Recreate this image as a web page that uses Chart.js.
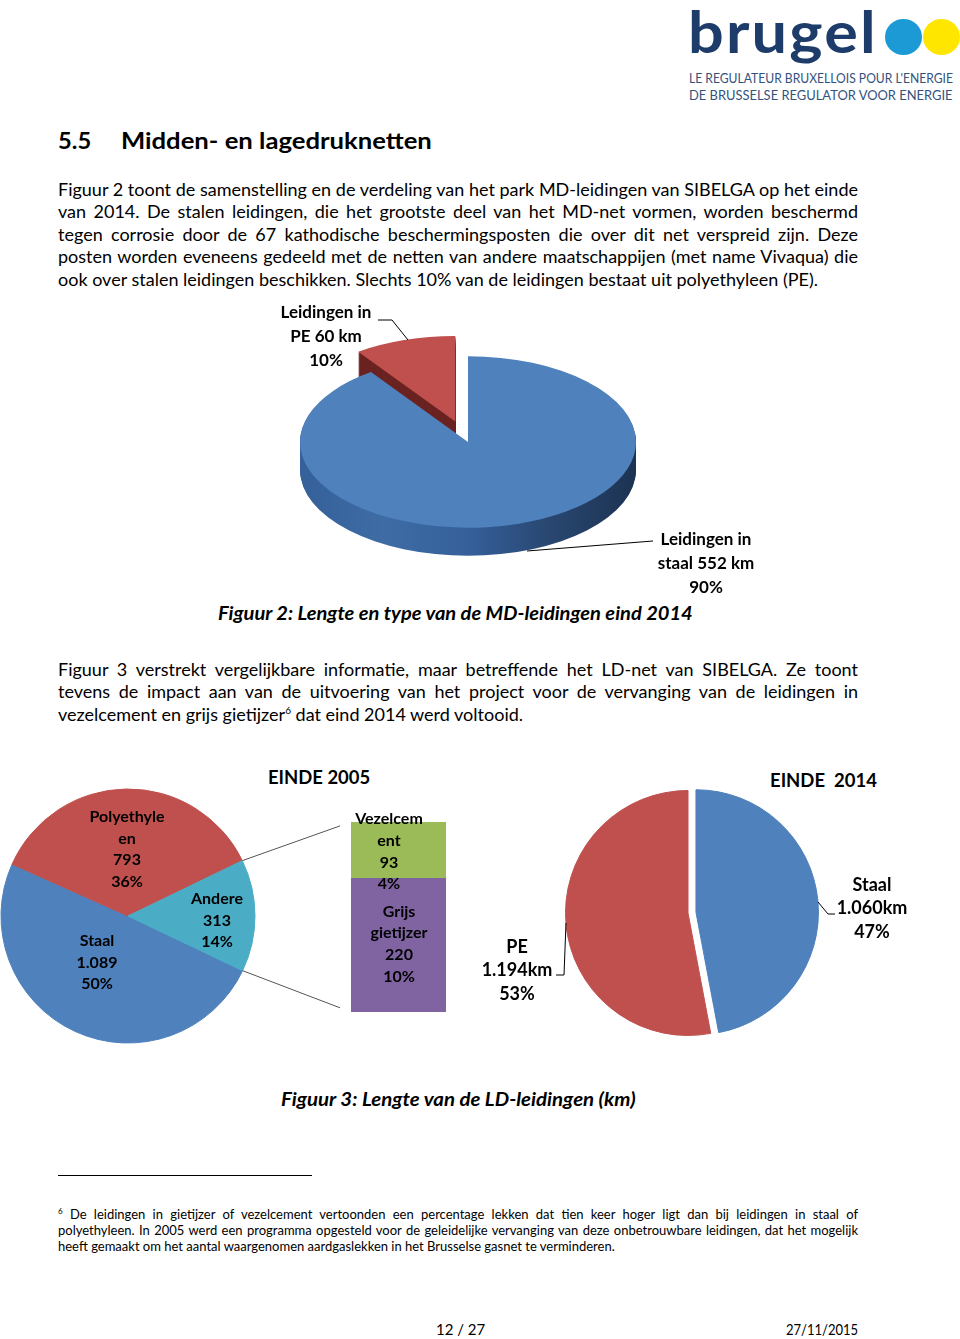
<!DOCTYPE html>
<html lang="nl">
<head>
<meta charset="UTF-8">
<title>Midden- en lagedruknetten</title>
<script src="https://cdn.jsdelivr.net/npm/chart.js@4.4.1/dist/chart.umd.min.js"></script>
<style>
    body { margin: 0; background: #fff; }
    .page { position: relative; width: 960px; height: 1339px; overflow: hidden; background: #fff;
            font-family: Lato, 'Open Sans', sans-serif; color: #000; }
    .t { position: absolute; white-space: nowrap; line-height: 1.2; }
    .line { position: absolute; left: 58px; width: 800px; white-space: nowrap; line-height: 1.2;
            font-size: 18px; text-align: justify; text-align-last: justify; }
    .line.last { text-align-last: left; }
    .fn { font-size: 13px; }
    .cap { font-weight: bold; font-style: italic; font-size: 18px; }
    .ttl { font-weight: bold; font-size: 19px; }
    .dot { position: absolute; width: 37px; height: 36px; border-radius: 50%; }
    canvas { position: absolute; }
</style>
</head>
<body>
<div class="page">
    <!-- logo -->
    <div class="t" data-w="190" style="left:688px; top:-4px; font-size:58px; font-weight:bold; color:#1d3c6a; letter-spacing:2px;">brugel</div>
    <div class="dot" style="left:885px; top:19px; background:#1c9ad6;"></div>
    <div class="dot" style="left:923px; top:19px; background:#ffe600;"></div>
    <div class="t" data-w="264" style="left:689px; top:70px; font-size:14px; color:#34527e;">LE REGULATEUR BRUXELLOIS POUR L'ENERGIE</div>
    <div class="t" data-w="264" style="left:689px; top:87px; font-size:14px; color:#34527e;">DE BRUSSELSE REGULATOR VOOR ENERGIE</div>

    <div class="t" data-w="33" style="left:58px; top:127px; font-size:23px; font-weight:bold;">5.5</div>
    <div class="t" data-w="311" style="left:121px; top:127px; font-size:23px; font-weight:bold;">Midden- en lagedruknetten</div>

    <div class="line" style="top:179px;">Figuur 2 toont de samenstelling en de verdeling van het park MD-leidingen van SIBELGA op het einde</div>
    <div class="line" style="top:201px;">van 2014. De stalen leidingen, die het grootste deel van het MD-net vormen, worden beschermd</div>
    <div class="line" style="top:224px;">tegen corrosie door de 67 kathodische beschermingsposten die over dit net verspreid zijn. Deze</div>
    <div class="line" style="top:246px;">posten worden eveneens gedeeld met de netten van andere maatschappijen (met name Vivaqua) die</div>
    <div class="line last" style="top:269px;">ook over stalen leidingen beschikken. Slechts 10% van de leidingen bestaat uit polyethyleen (PE).</div>

    <canvas id="md" width="510" height="300" style="left:260px; top:302px; width:510px; height:300px;"></canvas>

    <div class="t cap" data-w="475" style="left:218px; top:603px;">Figuur 2: Lengte en type van de MD-leidingen eind 2014</div>

    <div class="line" style="top:659px;">Figuur 3 verstrekt vergelijkbare informatie, maar betreffende het LD-net van SIBELGA. Ze toont</div>
    <div class="line" style="top:681px;">tevens de impact aan van de uitvoering van het project voor de vervanging van de leidingen in</div>
    <div class="line last" style="top:704px;">vezelcement en grijs gietijzer<sup style="font-size:10px;">6</sup> dat eind 2014 werd voltooid.</div>

    <div class="t ttl" data-w="102" style="left:268px; top:766px;">EINDE 2005</div>
    <div class="t ttl" data-w="107" style="left:770px; top:769px;">EINDE&nbsp; 2014</div>

    <canvas id="ldBar" width="140" height="230" style="left:330px; top:800px; width:140px; height:230px;"></canvas>
    <canvas id="ldPie05" width="340" height="300" style="left:0px; top:766px; width:340px; height:300px;"></canvas>
    <canvas id="ldPie14" width="490" height="290" style="left:470px; top:770px; width:490px; height:290px;"></canvas>

    <div class="t cap" data-w="355" style="left:281px; top:1089px;">Figuur 3: Lengte van de LD-leidingen (km)</div>

    <div style="position:absolute; left:58px; top:1175px; width:254px; height:1px; background:#000;"></div>
    <div class="line fn" style="top:1207px;"><sup style="font-size:8px;">6</sup> De leidingen in gietijzer of vezelcement vertoonden een percentage lekken dat tien keer hoger ligt dan bij leidingen in staal of</div>
    <div class="line fn" style="top:1223px;">polyethyleen. In 2005 werd een programma opgesteld voor de geleidelijke vervanging van deze onbetrouwbare leidingen, dat het mogelijk</div>
    <div class="line fn last" style="top:1239px;">heeft gemaakt om het aantal waargenomen aardgaslekken in het Brusselse gasnet te verminderen.</div>

    <div class="t" style="left:436px; top:1320px; font-size:15px;">12 / 27</div>
    <div class="t" data-w="72" style="left:786px; top:1320px; font-size:15px;">27/11/2015</div>
</div>

<script>
    // Figuur 2: MD-leidingen eind 2014 (km)
    const mdNames = ['staal', 'PE'];
    const mdKm = [552, 60];

    // Figuur 3: LD-leidingen eind 2005 (km)
    const ld05Names = ['Staal', 'Polyethyleen', 'Andere'];
    const ld05Km = [1089, 793, 313];
    // "Andere" opgesplitst (staaf)
    const andereNames = ['Grijs gietijzer', 'Vezelcement'];
    const andereKm = [220, 93];

    // Figuur 3: LD-leidingen eind 2014 (km)
    const ld14Names = ['Staal', 'PE'];
    const ld14Km = [1060, 1194];

    const BLUE = '#4f81bd', RED = '#c0504d', CYAN = '#4bacc6', GREEN = '#9bbb59', PURPLE = '#8064a2';

    function nl(n) {
        return String(n).replace(/\B(?=(\d{3})+(?!\d))/g, '.');
    }
    function pct(v, arr) {
        const tot = arr.reduce((a, b) => a + b, 0);
        return Math.round(v / tot * 100) + '%';
    }

    // tilted / exploded pie look, drawn from the arc elements
    function pieLook(cfg) {
        return {
            id: 'pieLook',
            beforeDatasetsDraw(chart) {
                const ctx = chart.ctx;
                const arcs = chart.getDatasetMeta(0).data;
                const cx = arcs[0].x, cy = arcs[0].y, R = arcs[0].outerRadius;
                const k = cfg.tilt;
                const shift = arcs.map((a, i) => {
                    const mid = (a.startAngle + a.endAngle) / 2, e = cfg.explode[i] || 0;
                    return [Math.cos(mid) * e, Math.sin(mid) * e];
                });
                const place = (d, s) => {
                    ctx.translate(cx, cy + d);
                    ctx.scale(1, k);
                    ctx.translate(-cx + s[0], -cy + s[1]);
                };
                const fills = (cfg.sides || []).map(f => {
                    if (!Array.isArray(f)) return f;
                    const g = ctx.createLinearGradient(cx - R, 0, cx + R, 0);
                    f.forEach((c, j) => g.addColorStop(j / (f.length - 1), c));
                    return g;
                });
                for (let d = cfg.depth; d > 0; d--) {
                    arcs.forEach((a, i) => {
                        ctx.save();
                        place(d, shift[i]);
                        ctx.fillStyle = fills[i];
                        ctx.beginPath();
                        ctx.moveTo(a.x, a.y);
                        ctx.arc(a.x, a.y, a.outerRadius, a.startAngle, a.endAngle);
                        ctx.closePath();
                        ctx.fill();
                        ctx.restore();
                    });
                }
                arcs.forEach((a, i) => {
                    ctx.save();
                    place(0, shift[i]);
                    a.draw(ctx);
                    ctx.restore();
                });
                return false;
            }
        };
    }

    // data labels + leader lines, positioned from the elements
    function labels(cfg) {
        return {
            id: 'labels',
            afterDraw(chart) {
                const ctx = chart.ctx;
                ctx.save();
                ctx.font = cfg.font;
                ctx.fillStyle = '#000';
                ctx.strokeStyle = '#000';
                ctx.lineWidth = 1;
                ctx.textAlign = 'center';
                ctx.textBaseline = 'middle';
                cfg.items.forEach(it => {
                    const el = chart.getDatasetMeta(it.ds || 0).data[it.index];
                    const bx = el.x, by = el.y;
                    if (it.leader) {
                        ctx.beginPath();
                        it.leader.forEach((p, j) => j ? ctx.lineTo(bx + p[0], by + p[1]) : ctx.moveTo(bx + p[0], by + p[1]));
                        ctx.stroke();
                    }
                    it.lines.forEach((s, j) => ctx.fillText(s, bx + it.dx, by + it.dy + j * cfg.lineHeight));
                });
                ctx.restore();
            }
        };
    }

    const noChrome = { legend: { display: false }, tooltip: { enabled: false } };

    // Figuur 2
    new Chart(document.getElementById('md'), {
        type: 'pie',
        data: {
            labels: mdNames,
            datasets: [{ data: mdKm, backgroundColor: [BLUE, RED], borderWidth: 0, radius: 168 }]
        },
        options: {
            responsive: false,
            animation: false,
            layout: { padding: { left: 0, right: 94, top: 0, bottom: 20 } },
            plugins: noChrome
        },
        plugins: [
            pieLook({ tilt: 0.51, depth: 28, explode: [0, 42],
                      sides: [['#35609a', '#3f6ca5', '#35609a', '#28466f', '#1c3352'], '#6a2321'] }),
            labels({
                font: 'bold 17px Lato, sans-serif', lineHeight: 24,
                items: [
                    { index: 1, dx: -142, dy: -129, lines: ['Leidingen in', mdNames[1] + ' ' + mdKm[1] + ' km', pct(mdKm[1], mdKm)],
                      leader: [[-90, -122], [-76, -122], [-60, -102]] },
                    { index: 0, dx: 238, dy: 98, lines: ['Leidingen in', mdNames[0] + ' ' + mdKm[0] + ' km', pct(mdKm[0], mdKm)],
                      leader: [[185, 99], [59, 109]] }
                ]
            })
        ]
    });

    // Figuur 3 - staaf "Andere" 2005
    const barChart = new Chart(document.getElementById('ldBar'), {
        type: 'bar',
        data: {
            labels: ['Andere'],
            datasets: [
                { label: andereNames[0], data: [andereKm[0]], backgroundColor: PURPLE },
                { label: andereNames[1], data: [andereKm[1]], backgroundColor: GREEN }
            ]
        },
        options: {
            responsive: false,
            animation: false,
            layout: { padding: { left: 21, right: 24, top: 22, bottom: 18 } },
            datasets: { bar: { barPercentage: 1, categoryPercentage: 1 } },
            scales: {
                x: { stacked: true, display: false },
                y: { stacked: true, display: false, min: 0, max: andereKm[0] + andereKm[1] }
            },
            plugins: noChrome
        },
        plugins: [labels({
            font: 'bold 16px Lato, sans-serif', lineHeight: 21.7,
            items: [
                { ds: 1, index: 0, dx: -9.5, dy: -3, lines: ['Vezelcem', 'ent', nl(andereKm[1]), pct(andereKm[1], ld05Km)] },
                { ds: 0, index: 0, dx: 0.5, dy: 33, lines: ['Grijs', 'gietijzer', nl(andereKm[0]), pct(andereKm[0], ld05Km)] }
            ]
        })]
    });

    // connector lines from the "Andere" slice to the bar
    const connector = {
        id: 'connector',
        afterDraw(chart) {
            const ctx = chart.ctx;
            const arc = chart.getDatasetMeta(0).data[2];
            const bottom = barChart.getDatasetMeta(0).data[0];
            const top = barChart.getDatasetMeta(1).data[0];
            const ox = barChart.canvas.offsetLeft - chart.canvas.offsetLeft;
            const oy = barChart.canvas.offsetTop - chart.canvas.offsetTop;
            const left = bottom.x - bottom.width / 2 + ox;
            const r = arc.outerRadius;
            ctx.save();
            ctx.strokeStyle = '#555';
            ctx.lineWidth = 1;
            ctx.beginPath();
            ctx.moveTo(arc.x + r * Math.cos(arc.startAngle), arc.y + r * Math.sin(arc.startAngle));
            ctx.lineTo(left, top.y + oy);
            ctx.moveTo(arc.x + r * Math.cos(arc.endAngle), arc.y + r * Math.sin(arc.endAngle));
            ctx.lineTo(left, bottom.base + oy);
            ctx.stroke();
            ctx.restore();
        }
    };

    // Figuur 3 - taart 2005
    new Chart(document.getElementById('ldPie05'), {
        type: 'pie',
        data: {
            labels: ld05Names,
            datasets: [{ data: ld05Km, backgroundColor: [BLUE, RED, CYAN], borderColor: [BLUE, RED, CYAN],
                         borderWidth: 1, radius: 127 }]
        },
        options: {
            responsive: false,
            animation: false,
            rotation: 115.5,
            layout: { padding: { left: 0, right: 84, top: 0, bottom: 0 } },
            plugins: noChrome
        },
        plugins: [connector, labels({
            font: 'bold 16px Lato, sans-serif', lineHeight: 21.5,
            items: [
                { index: 0, dx: -31, dy: 25, lines: [ld05Names[0], nl(ld05Km[0]), pct(ld05Km[0], ld05Km)] },
                { index: 1, dx: -1, dy: -99, lines: ['Polyethyle', 'en', nl(ld05Km[1]), pct(ld05Km[1], ld05Km)] },
                { index: 2, dx: 89, dy: -17, lines: [ld05Names[2], nl(ld05Km[2]), pct(ld05Km[2], ld05Km)] }
            ]
        })]
    });

    // Figuur 3 - taart 2014
    new Chart(document.getElementById('ldPie14'), {
        type: 'pie',
        data: {
            labels: ld14Names,
            datasets: [{ data: ld14Km, backgroundColor: [BLUE, RED], borderColor: [BLUE, RED],
                         borderWidth: 1, radius: 122.5 }]
        },
        options: {
            responsive: false,
            animation: false,
            layout: { padding: { left: 100, right: 154, top: 0, bottom: 4 } },
            plugins: noChrome
        },
        plugins: [
            pieLook({ tilt: 1, depth: 0, explode: [8, 0], sides: [] }),
            labels({
                font: 'bold 18px Lato, sans-serif', lineHeight: 23.5,
                items: [
                    { index: 0, dx: 184, dy: -28, lines: [ld14Names[0], nl(ld14Km[0]) + 'km', pct(ld14Km[0], ld14Km)],
                      leader: [[130, -11], [140, 1], [147, 1]] },
                    { index: 1, dx: -171, dy: 34, lines: [ld14Names[1], nl(ld14Km[1]) + 'km', pct(ld14Km[1], ld14Km)],
                      leader: [[-122, 10], [-124, 62], [-132, 62]] }
                ]
            })
        ]
    });

    // squeeze or stretch single text lines to the widths of the page
    document.querySelectorAll('[data-w]').forEach(el => {
        const s = +el.dataset.w / el.scrollWidth;
        el.style.transformOrigin = 'left center';
        el.style.transform = 'scaleX(' + s.toFixed(3) + ')';
    });
    document.querySelectorAll('.line').forEach(el => {
        if (el.scrollWidth > el.clientWidth + 1) {
            el.style.transformOrigin = 'left center';
            el.style.transform = 'scaleX(' + (el.clientWidth / el.scrollWidth).toFixed(3) + ')';
        }
    });
</script>
</body>
</html>
